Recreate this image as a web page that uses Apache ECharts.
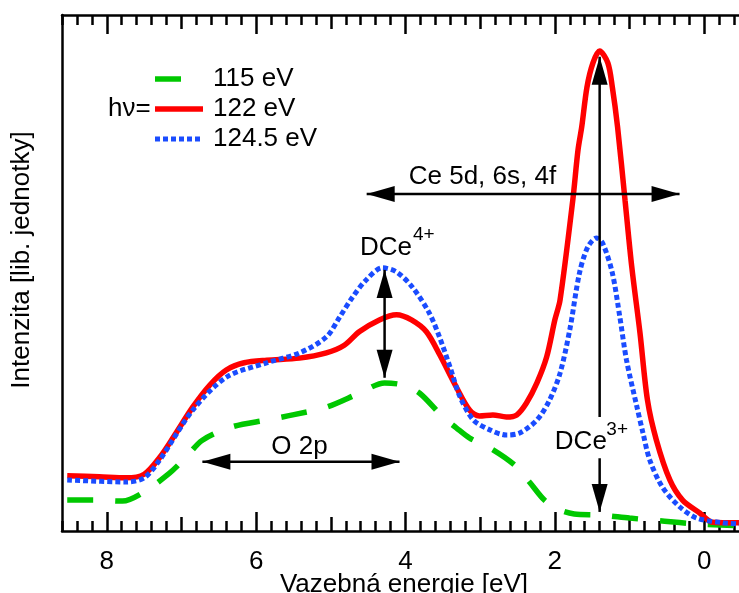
<!DOCTYPE html>
<html>
<head>
<meta charset="utf-8">
<script src="https://cdn.jsdelivr.net/npm/echarts@6/dist/echarts.min.js"></script>
<style>
  html, body { margin: 0; padding: 0; background: #fff; }
  #main { width: 739px; height: 593px; }
</style>
</head>
<body>
<div id="main"></div>
<script>
// binding energy [eV] and intensity (arb. units, 0 = bottom of frame, 100 = top)
var names = ['115 eV', '122 eV', '124.5 eV'];

var green_x = [8.53, 8.19, 7.79, 7.52, 7.16, 6.94, 6.72, 6.32, 5.86, 5.51, 5.06, 4.62, 4.28, 4.04, 3.81, 3.50, 3.32, 3.14, 2.87, 2.54, 2.34, 2.14, 1.94, 1.74, 1.40, 1.00, 0.53, 0.13, -0.47];
var green_y = [6.0, 6.0, 5.8, 7.4, 11.2, 14.3, 17.6, 20.2, 21.5, 22.5, 24.0, 26.7, 28.7, 28.3, 26.7, 22.1, 20.0, 18.0, 16.1, 12.8, 9.5, 6.0, 4.1, 3.3, 3.1, 2.5, 1.9, 1.4, 1.0];

var red_x = [8.53, 8.10, 7.74, 7.50, 7.29, 7.09, 6.85, 6.62, 6.40, 6.16, 5.86, 5.42, 5.06, 4.82, 4.62, 4.35, 4.12, 3.92, 3.72, 3.54, 3.32, 3.14, 3.01, 2.83, 2.65, 2.51, 2.38, 2.24, 2.11, 2.00, 1.93, 1.76, 1.69, 1.64, 1.57, 1.49, 1.40, 1.29, 1.23, 1.16, 1.06, 0.97, 0.86, 0.76, 0.64, 0.46, 0.29, 0.06, -0.11, -0.47];
var red_y = [10.7, 10.5, 10.3, 11.0, 14.3, 18.6, 24.0, 28.3, 31.2, 32.6, 33.1, 33.5, 34.5, 36.0, 38.6, 40.9, 41.9, 40.9, 38.6, 34.1, 27.9, 23.4, 22.3, 22.5, 22.1, 22.5, 24.8, 28.7, 33.7, 40.9, 44.8, 64.1, 73.8, 78.3, 86.0, 90.7, 93.0, 90.7, 86.0, 78.3, 64.1, 51.2, 38.4, 25.4, 17.6, 9.9, 6.0, 3.5, 1.7, 1.6];

var blue_x = [8.53, 7.74, 7.50, 7.29, 6.85, 6.40, 5.86, 5.42, 5.06, 4.88, 4.71, 4.53, 4.31, 4.12, 3.91, 3.68, 3.54, 3.40, 3.27, 3.09, 2.87, 2.65, 2.47, 2.24, 2.07, 1.93, 1.80, 1.67, 1.56, 1.44, 1.36, 1.23, 1.13, 1.04, 0.90, 0.82, 0.73, 0.56, 0.33, 0.10, -0.25, -0.47];
var blue_y = [9.9, 9.5, 10.3, 13.8, 23.4, 29.8, 32.6, 34.5, 37.6, 41.5, 45.3, 48.6, 51.0, 50.2, 47.3, 42.2, 37.4, 31.6, 26.0, 21.5, 19.6, 18.6, 19.0, 21.5, 25.4, 30.6, 39.0, 50.0, 55.0, 56.8, 55.8, 50.0, 41.5, 33.1, 24.0, 19.0, 13.8, 8.5, 4.7, 2.5, 1.6, 1.4];

var majorTicks = [0, 2, 4, 6, 8];
var midTicks = [0, 1, 2, 3, 4, 5, 6, 7, 8];

// annotations in data units: [x1, y1, x2, y2, headAtStart, headAtEnd]
var arrows = [
  [4.52, 65.3, 0.33, 65.3, true, true],   // Ce 5d, 6s, 4f
  [6.72, 13.4, 4.08, 13.4, true, true],   // O 2p
  [4.28, 50.6, 4.28, 29.7, true, true],   // DCe4+
  [1.40, 22.1, 1.40, 91.9, false, true],  // DCe3+ up
  [1.40, 14.1, 1.40, 3.7, false, true]    // DCe3+ down
];
// [text, x, y, fontSize, align]
var labels = [
  ['Ce 5d, 6s, 4f', 2.97, 68.6, 26, 'center'],
  ['O 2p', 5.42, 16.3, 26, 'center'],
  ['DCe', 4.61, 54.8, 26, 'left'],
  ['4+', 3.90, 57.4, 19, 'left'],
  ['DCe', 2.00, 17.2, 26, 'left'],
  ['3+', 1.31, 19.6, 19, 'left']
];

var FONT = "'Liberation Sans', Arial, Helvetica, sans-serif";
var colors = ['#00c800', '#ff0000', '#1a4cff'];
var widths = [5.5, 5.5, 5];
var dashes = [[26, 22], null, [5, 3]];

function pairs(xs, ys) {
  var out = [];
  for (var i = 0; i < xs.length; i++) out.push([xs[i], ys[i]]);
  return out;
}

function xAx(pos, opts) {
  var a = {
    type: 'value', position: pos, min: -0.6, max: 8.6, inverse: true,
    splitLine: { show: false },
    axisLine: { show: false, onZero: false, lineStyle: { color: '#000', width: 2.5 } },
    axisLabel: { show: false },
    axisTick: { show: true, inside: true, length: 10, lineStyle: { color: '#000', width: 2.5 } }
  };
  return Object.assign(a, opts);
}

var chart = echarts.init(document.getElementById('main'));

var option = {
  animation: false,
  backgroundColor: '#fff',
  textStyle: { fontFamily: FONT },
  grid: { left: 62, right: -10, top: 15, bottom: 62, outerBoundsMode: 'none', containLabel: false },
  xAxis: [
    xAx('bottom', {
      interval: 0.2,
      axisLine: { show: true, onZero: false, lineStyle: { color: '#000', width: 2.5 } },
      axisLabel: {
        show: true, margin: 18, fontSize: 26, color: '#000', fontFamily: FONT,
        formatter: function (v) {
          var r = Math.round(v);
          return (Math.abs(v - r) < 1e-6 && r % 2 === 0 && r >= 0) ? String(r) : '';
        }
      }
    }),
    xAx('bottom', { axisTick: { show: true, inside: true, length: 14, customValues: midTicks, lineStyle: { color: '#000', width: 2.5 } } }),
    xAx('bottom', { axisTick: { show: true, inside: true, length: 19, customValues: majorTicks, lineStyle: { color: '#000', width: 2.5 } } }),
    xAx('top', {
      interval: 0.2,
      axisLine: { show: true, onZero: false, lineStyle: { color: '#000', width: 2.5 } }
    }),
    xAx('top', { axisTick: { show: true, inside: true, length: 14, customValues: midTicks, lineStyle: { color: '#000', width: 2.5 } } }),
    xAx('top', { axisTick: { show: true, inside: true, length: 19, customValues: majorTicks, lineStyle: { color: '#000', width: 2.5 } } })
  ],
  yAxis: {
    type: 'value', min: 0, max: 100, position: 'left',
    axisLine: { show: true, onZero: false, lineStyle: { color: '#000', width: 2.5 } },
    axisTick: { show: false }, axisLabel: { show: false }, splitLine: { show: false }
  },
  series: [
    {
      name: names[0], type: 'line', symbol: 'none', smooth: 0.3,
      data: pairs(green_x, green_y),
      lineStyle: { color: colors[0], width: widths[0], type: dashes[0] }
    },
    {
      name: names[1], type: 'line', symbol: 'none', smooth: 0.3,
      data: pairs(red_x, red_y),
      lineStyle: { color: colors[1], width: widths[1] }
    },
    {
      name: names[2], type: 'line', symbol: 'none', smooth: 0.3,
      data: pairs(blue_x, blue_y),
      lineStyle: { color: colors[2], width: widths[2], type: dashes[2] }
    }
  ]
};
chart.setOption(option);

function toPx(x, y) {
  return chart.convertToPixel({ xAxisIndex: 0, yAxisIndex: 0 }, [x, y]);
}

function head(tip, from, len, half) {
  var dx = tip[0] - from[0], dy = tip[1] - from[1];
  var d = Math.sqrt(dx * dx + dy * dy);
  var ux = dx / d, uy = dy / d;
  var bx = tip[0] - ux * len, by = tip[1] - uy * len;
  return {
    type: 'polygon', z: 100,
    shape: { points: [tip, [bx - uy * half, by + ux * half], [bx + uy * half, by - ux * half]] },
    style: { fill: '#000' }
  };
}

var g = [];
arrows.forEach(function (a) {
  var p1 = toPx(a[0], a[1]), p2 = toPx(a[2], a[3]);
  g.push({
    type: 'line', z: 100,
    shape: { x1: p1[0], y1: p1[1], x2: p2[0], y2: p2[1] },
    style: { stroke: '#000', lineWidth: 2.5 }
  });
  if (a[4]) g.push(head(p1, p2, 28, 8));
  if (a[5]) g.push(head(p2, p1, 28, 8));
});
labels.forEach(function (l) {
  var p = toPx(l[1], l[2]);
  g.push({
    type: 'text', z: 100, x: p[0], y: p[1],
    style: { text: l[0], fontSize: l[3], fontFamily: FONT, fill: '#000', align: l[4], verticalAlign: 'middle' }
  });
});

// legend: hν= prefix, line samples, energies
var legendRows = [79, 109, 139];
var sampleLen = [26, 48, 47];
names.forEach(function (n, i) {
  var ls = { stroke: colors[i], lineWidth: widths[i] };
  if (dashes[i]) ls.lineDash = dashes[i];
  g.push({
    type: 'line', z: 100,
    shape: { x1: 155, y1: legendRows[i], x2: 155 + sampleLen[i], y2: legendRows[i] },
    style: ls
  });
  g.push({
    type: 'text', z: 100, x: 213, y: legendRows[i],
    style: { text: n, fontSize: 26, fontFamily: FONT, fill: '#000', align: 'left', verticalAlign: 'middle' }
  });
});
g.push({
  type: 'text', z: 100, x: 108, y: 109,
  style: { text: 'hν=', fontSize: 26, fontFamily: FONT, fill: '#000', align: 'left', verticalAlign: 'middle' }
});
// axis titles
g.push({
  type: 'text', z: 100, x: 404, y: 585,
  style: { text: 'Vazebná energie [eV]', fontSize: 26, fontFamily: FONT, fill: '#000', align: 'center', verticalAlign: 'middle' }
});
g.push({
  type: 'text', z: 100, x: 22, y: 260, rotation: Math.PI / 2,
  style: { text: 'Intenzita [lib. jednotky]', fontSize: 26, fontFamily: FONT, fill: '#000', align: 'center', verticalAlign: 'middle' }
});
chart.setOption({ graphic: g });
</script>
</body>
</html>
